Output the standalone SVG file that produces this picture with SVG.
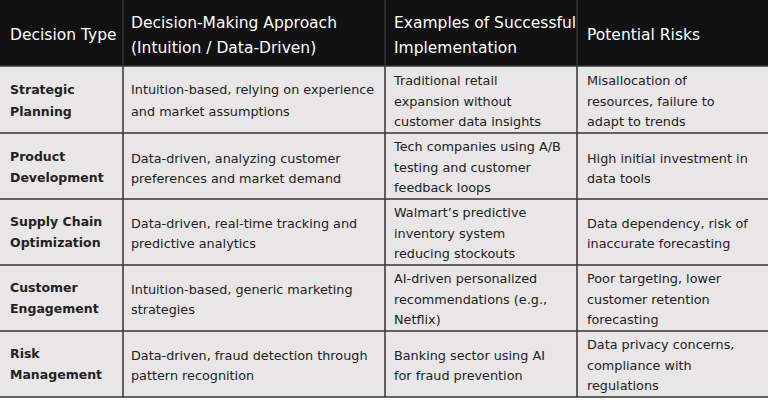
<svg xmlns="http://www.w3.org/2000/svg" width="768" height="400" viewBox="0 0 768 400">
<style>
.h{font-family:"DejaVu Sans",Verdana,sans-serif;font-size:15.5px;fill:#fff}
.b{font-family:"DejaVu Sans",Verdana,sans-serif;font-size:12.8px;fill:#222}
.k{font-family:"DejaVu Sans",Verdana,sans-serif;font-size:12.5px;font-weight:bold;fill:#222}
.l{stroke:#333;stroke-width:1.5}
</style>
<rect x="0" y="0" width="768" height="400" fill="#fff"/>
<rect x="0" y="0" width="768" height="66" fill="#111"/>
<rect x="0" y="66" width="768" height="331" fill="#e8e6e6"/>
<g id="grid">
<line class="l" x1="0" y1="66" x2="768" y2="66"/>
<line class="l" x1="0" y1="133" x2="768" y2="133"/>
<line class="l" x1="0" y1="199" x2="768" y2="199"/>
<line class="l" x1="0" y1="265" x2="768" y2="265"/>
<line class="l" x1="0" y1="331" x2="768" y2="331"/>
<line class="l" x1="0" y1="397" x2="768" y2="397"/>
<line class="l" x1="123" y1="0" x2="123" y2="397"/>
<line class="l" x1="385" y1="0" x2="385" y2="397"/>
<line class="l" x1="577" y1="0" x2="577" y2="397"/>
</g>
<g id="header">
<text class="h" x="10" y="40">Decision Type</text>
<text class="h" x="131" y="28">Decision-Making Approach</text>
<text class="h" x="131" y="53">(Intuition / Data-Driven)</text>
<text class="h" x="394" y="28">Examples of Successful</text>
<text class="h" x="394" y="53">Implementation</text>
<text class="h" x="587" y="40">Potential Risks</text>
</g>
<g id="row1">
<text class="k" x="10" y="94">Strategic</text><text class="k" x="10" y="116">Planning</text>
<text class="b" x="131" y="94">Intuition-based, relying on experience</text><text class="b" x="131" y="116">and market assumptions</text>
<text class="b" x="394" y="85">Traditional retail</text><text class="b" x="394" y="106">expansion without</text><text class="b" x="394" y="126">customer data insights</text>
<text class="b" x="587" y="85">Misallocation of</text><text class="b" x="587" y="106">resources, failure to</text><text class="b" x="587" y="126">adapt to trends</text>
</g>
<g id="row2">
<text class="k" x="10" y="161">Product</text><text class="k" x="10" y="182">Development</text>
<text class="b" x="131" y="163">Data-driven, analyzing customer</text><text class="b" x="131" y="183">preferences and market demand</text>
<text class="b" x="394" y="151">Tech companies using A/B</text><text class="b" x="394" y="172">testing and customer</text><text class="b" x="394" y="192">feedback loops</text>
<text class="b" x="587" y="163">High initial investment in</text><text class="b" x="587" y="183">data tools</text>
</g>
<g id="row3">
<text class="k" x="10" y="226">Supply Chain</text><text class="k" x="10" y="247">Optimization</text>
<text class="b" x="131" y="228">Data-driven, real-time tracking and</text><text class="b" x="131" y="248">predictive analytics</text>
<text class="b" x="394" y="217">Walmart’s predictive</text><text class="b" x="394" y="238">inventory system</text><text class="b" x="394" y="258">reducing stockouts</text>
<text class="b" x="587" y="228">Data dependency, risk of</text><text class="b" x="587" y="248">inaccurate forecasting</text>
</g>
<g id="row4">
<text class="k" x="10" y="292">Customer</text><text class="k" x="10" y="313">Engagement</text>
<text class="b" x="131" y="294">Intuition-based, generic marketing</text><text class="b" x="131" y="314">strategies</text>
<text class="b" x="394" y="283">AI-driven personalized</text><text class="b" x="394" y="304">recommendations (e.g.,</text><text class="b" x="394" y="324">Netflix)</text>
<text class="b" x="587" y="283">Poor targeting, lower</text><text class="b" x="587" y="304">customer retention</text><text class="b" x="587" y="324">forecasting</text>
</g>
<g id="row5">
<text class="k" x="10" y="358">Risk</text><text class="k" x="10" y="379">Management</text>
<text class="b" x="131" y="360">Data-driven, fraud detection through</text><text class="b" x="131" y="380">pattern recognition</text>
<text class="b" x="394" y="360">Banking sector using AI</text><text class="b" x="394" y="380">for fraud prevention</text>
<text class="b" x="587" y="349">Data privacy concerns,</text><text class="b" x="587" y="370">compliance with</text><text class="b" x="587" y="390">regulations</text>
</g>
</svg>
